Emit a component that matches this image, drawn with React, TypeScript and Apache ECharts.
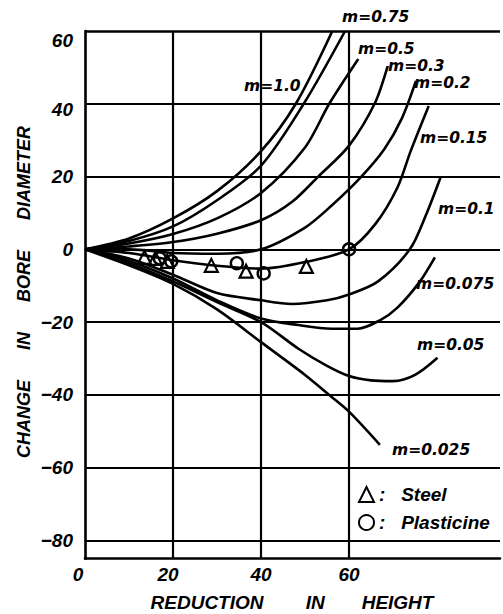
import React, { useEffect, useRef } from "react";
import * as echarts from "echarts";

// ---- data ----
const xTickLabels = [0, 20, 40, 60];
const yTickLabels = [60, 40, 20, 0, -20, -40, -60, -80];
const xGridValues = [20, 40, 60];
const yGridValues = [60, 40, 20, 0, -20, -40, -60, -80];

const m100 = [[0, 0], [10, 3], [20, 8.5], [30, 16], [40, 27], [47.9, 40], [56.2, 60]];
const m075 = [[0, 0], [10, 2.3], [20, 6.3], [30, 13.5], [40, 23], [49.7, 40], [59.1, 60]];
const m050 = [[0, 0], [10, 1.6], [20, 4.2], [30, 8.5], [40, 15.5], [50, 28], [55.5, 40], [62.1, 52.3]];
const m030 = [[0, 0], [10, 0.8], [20, 2], [30, 4.3], [40, 8], [47, 13], [53, 20], [60, 28.5], [66, 40.5], [68.8, 50.4]];
const m020 = [[0, 0], [10, 0], [20, -1], [30, -1.2], [40, 0], [50, 6], [56, 12], [62.8, 20], [68, 27.5], [72, 36], [75.2, 46.3]];
const m015 = [[0, 0], [10, -1], [20, -3], [30, -4.5], [40, -5.3], [50, -3.5], [60, 0], [66, 7], [71, 17], [74, 27], [78.1, 39.4]];
const m010 = [[0, 0], [10, -2.5], [20, -7], [30, -12], [40, -14], [47, -15], [55, -14], [60, -12.4], [66.6, -8.8], [73.8, 0], [77.5, 9.5], [80.8, 19.8]];
const m0075 = [[0, 0], [10, -3.2], [20, -8], [30, -14], [40, -19], [48.5, -20.8], [56, -21.8], [62, -21.8], [67, -19.5], [71, -16], [76, -9], [79.5, -2.2]];
const m005 = [[0, 0], [10, -3.8], [20, -8.8], [30, -14.5], [40, -20], [48.5, -27.3], [55, -32], [60, -34.8], [65, -36], [70, -36.2], [75, -34.5], [80.1, -29.8]];
const m0025 = [[0, 0], [10, -4.4], [20, -9.5], [30, -16.5], [40, -25.5], [50, -34.5], [56, -40.5], [60, -44.6], [67, -53.7]];

const curveNames = ["m=1.0", "m=0.75", "m=0.5", "m=0.3", "m=0.2", "m=0.15", "m=0.1", "m=0.075", "m=0.05", "m=0.025"];
const curveData = [m100, m075, m050, m030, m020, m015, m010, m0075, m005, m0025];

const steel = [[13.5, -2.2], [16, -2.5], [18.7, -3.3], [28.7, -4.4], [36.6, -6], [50.3, -4.7]];
const plasticine = [[17, -2.5], [19.6, -3.3], [34.5, -3.8], [40.6, -6.6], [60, 0]];

// ---- layout (annotation positions, pixels) ----
const curveLabelPos: [number, number][] = [
  [244, 86], [342, 16.5], [358, 49], [388, 66], [414, 83],
  [420, 137.5], [438, 209], [416, 284], [417, 345], [392, 449.5],
];

const FONT = '"Liberation Sans", Arial, sans-serif';
const LFONT = '"DejaVu Sans", sans-serif';

export default function App() {
  const ref = useRef<HTMLDivElement>(null);
  useEffect(() => {
    document.body.style.margin = "0";
    const chart = echarts.init(ref.current!, null, { renderer: "svg" });
    const lineSeries = curveData.map((d, i) => ({
      type: "line",
      name: curveNames[i],
      data: d,
      smooth: 0.3,
      showSymbol: false,
      symbol: "none",
      lineStyle: { color: "#000", width: 2.6 },
      z: 3,
    }));
    const markLineStyle = { color: "#000", width: 2.2, type: "solid" };
    const tickFont = {
      color: "#000",
      fontFamily: FONT,
      fontWeight: "bold",
      fontStyle: "italic",
      fontSize: 19,
    };
    const option: any = {
      animation: false,
      backgroundColor: "#fff",
      grid: { left: 85, top: 31, right: 0, bottom: 55.3, show: false },
      xAxis: {
        type: "value",
        min: 0,
        max: 94.3,
        interval: 20,
        axisLine: { show: true, onZero: false, lineStyle: { color: "#000", width: 2.6 } },
        axisTick: { show: false },
        splitLine: { show: false },
        axisLabel: {
          margin: 6,
          ...tickFont,
          formatter: (v: number) => {
            if (!xTickLabels.includes(v)) return "";
            if (v === 0) return "{shl|0}";
            if (v === 20) return "{shs|20}";
            return String(v);
          },
          rich: {
            shl: { ...tickFont, padding: [0, 14, 0, 0] },
            shs: { ...tickFont, padding: [0, 10, 0, 0] },
          },
        },
      },
      yAxis: {
        type: "value",
        min: -85,
        max: 60,
        interval: 5,
        axisLine: { show: true, onZero: false, lineStyle: { color: "#000", width: 2.6 } },
        axisTick: { show: false },
        splitLine: { show: false },
        axisLabel: {
          margin: 12,
          ...tickFont,
          formatter: (v: number) => {
            if (!yTickLabels.includes(v)) return "";
            if (v === 60) return "{lo|60}";
            if (v === 40) return "{lo2|40}";
            return v < 0 ? "\u2212" + Math.abs(v) : String(v);
          },
          rich: {
            lo: { ...tickFont, padding: [18, 0, 0, 0] },
            lo2: { ...tickFont, padding: [11, 0, 0, 0] },
          },
        },
      },
      legend: {
        orient: "vertical",
        left: 358,
        top: 485,
        padding: 0,
        itemWidth: 15,
        itemHeight: 15,
        itemGap: 9,
        data: ["Steel", "Plasticine"],
        formatter: (n: string) => ":\u00a0\u00a0\u00a0" + n,
        textStyle: { color: "#000", fontFamily: FONT, fontWeight: "bold", fontStyle: "italic", fontSize: 19 },
      },
      series: [
        {
          type: "line",
          name: "grid",
          data: [],
          silent: true,
          markLine: {
            silent: true,
            symbol: "none",
            label: { show: false },
            lineStyle: markLineStyle,
            data: [
              ...xGridValues.map((v) => ({ xAxis: v })),
              ...yGridValues.map((v) => ({
                yAxis: v,
                lineStyle: v === 60 ? { width: 2.6, color: "#000", type: "solid" } : markLineStyle,
              })),
            ],
          },
          z: 1,
        },
        ...lineSeries,
        {
          type: "scatter",
          name: "Steel",
          data: steel,
          symbol: "triangle",
          symbolSize: 13,
          itemStyle: { color: "rgba(255,255,255,0)", borderColor: "#000", borderWidth: 2.2, opacity: 1 },
          z: 5,
        },
        {
          type: "scatter",
          name: "Plasticine",
          data: plasticine,
          symbol: "circle",
          symbolSize: 12,
          itemStyle: { color: "rgba(255,255,255,0)", borderColor: "#000", borderWidth: 2.4, opacity: 1 },
          z: 5,
        },
      ],
      graphic: [
        ...curveNames.map((t, i) => ({
          type: "text",
          x: curveLabelPos[i][0],
          y: curveLabelPos[i][1],
          z: 10,
          style: {
            text: t,
            fill: "#000",
            font: `italic bold 15.5px ${LFONT}`,
            textAlign: "left",
            textVerticalAlign: "middle",
          },
        })),
        {
          type: "text",
          x: 292,
          y: 602,
          style: {
            text: "REDUCTION\u00a0\u00a0\u00a0\u00a0\u00a0\u00a0\u00a0 IN\u00a0\u00a0\u00a0\u00a0\u00a0\u00a0 HEIGHT",
            fill: "#000",
            font: `italic bold 19px ${FONT}`,
            textAlign: "center",
            textVerticalAlign: "middle",
          },
        },
        {
          type: "text",
          x: 24,
          y: 292,
          rotation: Math.PI / 2,
          style: {
            text: "CHANGE\u00a0\u00a0\u00a0\u00a0\u00a0 IN\u00a0\u00a0\u00a0\u00a0\u00a0 BORE\u00a0\u00a0\u00a0\u00a0\u00a0 DIAMETER",
            fill: "#000",
            font: `italic bold 18px ${FONT}`,
            textAlign: "center",
            textVerticalAlign: "middle",
          },
        },
      ],
    };
    chart.setOption(option);
    return () => chart.dispose();
  }, []);
  return <div ref={ref} style={{ width: 503, height: 614, position: "absolute", left: 0, top: 0 }} />;
}
